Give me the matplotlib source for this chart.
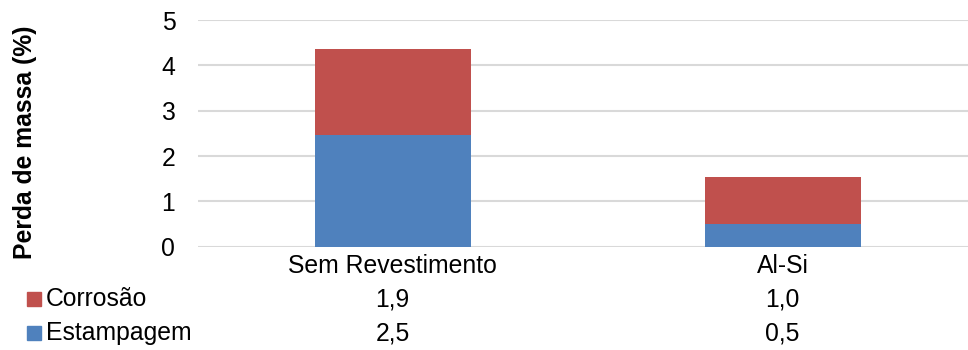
import matplotlib
matplotlib.use("Agg")
import matplotlib.pyplot as plt
from matplotlib.patches import Rectangle

plt.rcParams['font.family'] = ['Liberation Sans', 'DejaVu Sans']

categories = ["Sem Revestimento", "Al-Si"]
series_names = ["Corrosão", "Estampagem"]
estampagem = [2.46, 0.50]
corrosao = [1.89, 1.04]
yticks = [0, 1, 2, 3, 4, 5]

c_red = "#C0504D"
c_blue = "#4F81BD"
fs = 17.8

W, H = 968, 350
fig = plt.figure(figsize=(W / 100, H / 100), dpi=100)
ax = fig.add_axes([197.5 / W, 103.3 / H, 780 / W, 226.7 / H])

x = list(range(len(categories)))
ax.bar(x, estampagem, width=0.4, color=c_blue, zorder=3)
ax.bar(x, corrosao, width=0.4, bottom=estampagem, color=c_red, zorder=3)

ax.set_xlim(-0.5, 1.5)
ax.set_ylim(0, 5)
ax.set_yticks(yticks)
ax.set_yticklabels([str(t) for t in yticks], fontsize=fs)
ax.tick_params(axis='y', length=0, pad=16)
ax.set_xticks([])
for s in ax.spines.values():
    s.set_visible(False)
ax.grid(axis='y', color="#d9d9d9", linewidth=1.5, zorder=0)
ax.set_axisbelow(True)

fig.text(25 / W, (350 - 142.5) / H, "Perda de massa (%)", rotation=90,
         fontsize=fs, fontweight='bold', ha='center', va='center')

# data table below
def fx(v):
    return ax.transData.transform((v, 0))[0] / W

for i, cat in enumerate(categories):
    fig.text(fx(i), (350 - 266) / H, cat, fontsize=fs, ha='center', va='center')

rows = [("Corrosão", corrosao, c_red, 299), ("Estampagem", estampagem, c_blue, 333)]
for name, vals, col, ypix in rows:
    yf = (350 - ypix) / H
    fig.patches.append(Rectangle((27 / W, (350 - ypix - 7) / H), 14 / W, 14 / H,
                                 transform=fig.transFigure, color=col, figure=fig))
    fig.text(46 / W, yf, name, fontsize=fs, ha='left', va='center')
    for i, v in enumerate(vals):
        fig.text(fx(i), yf, f"{v:.1f}".replace('.', ','), fontsize=fs,
                 ha='center', va='center')

fig.savefig("out.png", dpi=100)
